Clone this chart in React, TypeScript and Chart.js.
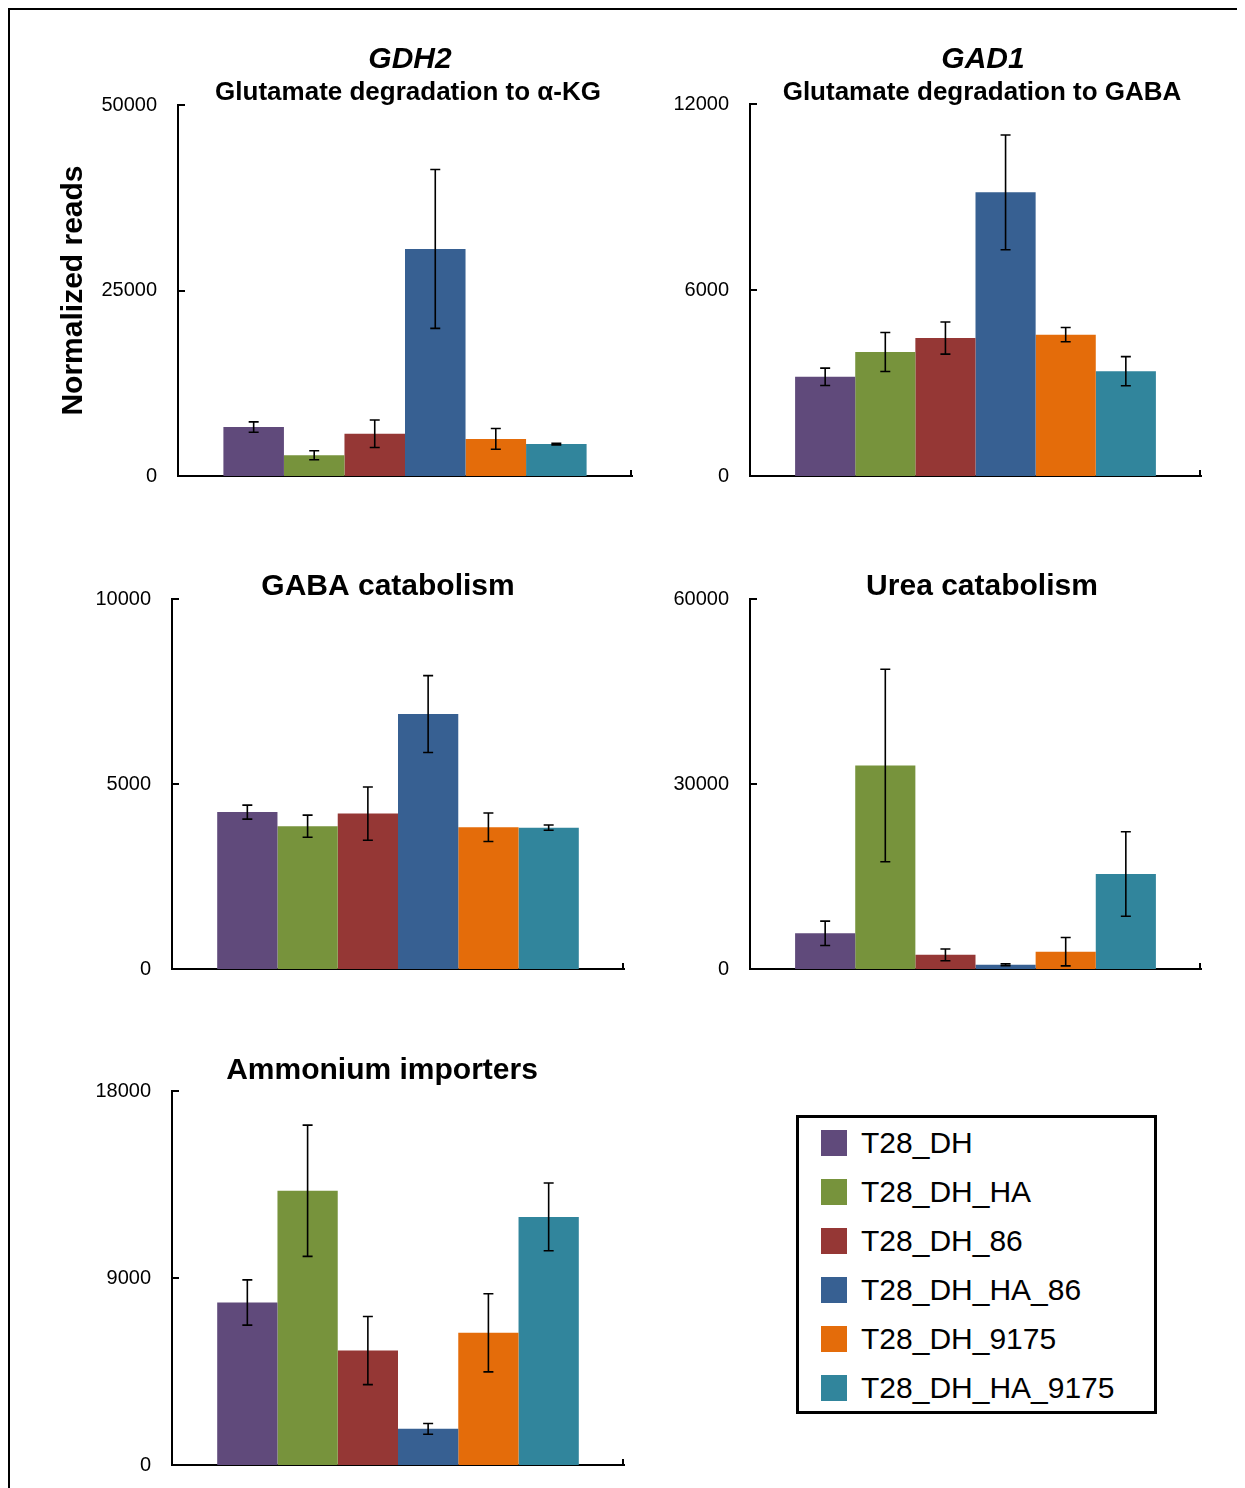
import React, { useEffect, useRef } from 'react';
import { Chart, registerables } from 'chart.js';

Chart.register(...registerables);

// ---------- data ----------
const seriesNames = ['T28_DH', 'T28_DH_HA', 'T28_DH_86', 'T28_DH_HA_86', 'T28_DH_9175', 'T28_DH_HA_9175'];
const seriesColors = ['#604A7B', '#77933C', '#953735', '#376092', '#E46C0A', '#31859C'];
const categories = [''];

const gdh2Values = [6600, 2800, 5700, 30600, 5000, 4300];
const gdh2Errors = [700, 600, 1850, 10700, 1400, 100];
const gdh2Max = 50000;

const gad1Values = [3200, 4000, 4450, 9150, 4560, 3380];
const gad1Errors = [280, 630, 520, 1850, 230, 470];
const gad1Max = 12000;

const gabaValues = [4240, 3860, 4200, 6890, 3830, 3820];
const gabaErrors = [190, 300, 720, 1040, 385, 70];
const gabaMax = 10000;

const ureaValues = [5780, 33000, 2300, 700, 2800, 15400];
const ureaErrors = [1980, 15600, 950, 150, 2300, 6850];
const ureaMax = 60000;

const ammoniumValues = [7820, 13200, 5510, 1740, 6360, 11940];
const ammoniumErrors = [1090, 3160, 1640, 260, 1880, 1630];
const ammoniumMax = 18000;

const yAxisTitle = 'Normalized reads';

// ---------- styling ----------
const FONT = '"Liberation Sans", Arial, Helvetica, sans-serif';
const X_AXIS_GAP = 34;

type Rect = { l: number; t: number; r: number; b: number };
type TitleLine = { text: string; x: number; y: number; size: number; italic?: boolean };

type PanelProps = {
  canvasL: number;
  canvasT: number;
  canvasR: number;
  area: Rect;
  values: number[];
  errors: number[];
  max: number;
  titles: TitleLine[];
  yTitle?: string;
};

function Panel({ canvasL, canvasT, canvasR, area, values, errors, max, titles, yTitle }: PanelProps) {
  const ref = useRef<HTMLCanvasElement | null>(null);
  const canvas = { l: canvasL, t: canvasT, r: canvasR, b: area.b + X_AXIS_GAP };
  const w = canvas.r - canvas.l;
  const h = canvas.b - canvas.t;

  useEffect(() => {
    if (!ref.current) return;
    const decor = {
      id: 'panelDecor',
      afterDatasetsDraw(chart: any) {
        const ctx = chart.ctx;
        const ys = chart.scales.y;
        ctx.save();
        ctx.strokeStyle = '#000';
        ctx.lineWidth = 1.6;
        chart.data.datasets.forEach((ds: any, i: number) => {
          const el = chart.getDatasetMeta(i).data[0];
          if (!el) return;
          const v = ds.data[0];
          const e = errors[i];
          const yt = ys.getPixelForValue(v + e);
          const yb = ys.getPixelForValue(Math.max(0, v - e));
          const x = el.x;
          ctx.beginPath();
          ctx.moveTo(x, yt);
          ctx.lineTo(x, yb);
          ctx.moveTo(x - 5, yt);
          ctx.lineTo(x + 5, yt);
          ctx.moveTo(x - 5, yb);
          ctx.lineTo(x + 5, yb);
          ctx.stroke();
        });
        ctx.restore();
      },
      afterDraw(chart: any) {
        const ctx = chart.ctx;
        const { left, right, bottom } = chart.chartArea;
        const ys = chart.scales.y;
        ctx.save();
        ctx.strokeStyle = '#000';
        ctx.lineWidth = 2;
        ys.ticks.forEach((t: any) => {
          const py = Math.round(ys.getPixelForValue(t.value));
          ctx.beginPath();
          ctx.moveTo(left, py);
          ctx.lineTo(left + 7, py);
          ctx.stroke();
        });
        ctx.beginPath();
        ctx.moveTo(right - 1, bottom);
        ctx.lineTo(right - 1, bottom - 6);
        ctx.stroke();
        ctx.fillStyle = '#000';
        ctx.textAlign = 'center';
        ctx.textBaseline = 'middle';
        titles.forEach((tl) => {
          ctx.font = `${tl.italic ? 'italic ' : ''}bold ${tl.size}px ${FONT}`;
          ctx.fillText(tl.text, tl.x - canvas.l, tl.y - canvas.t);
        });
        ctx.restore();
      },
    };

    const chart = new Chart(ref.current, {
      type: 'bar',
      data: {
        labels: categories,
        datasets: seriesNames.map((name, i) => ({
          label: name,
          data: [values[i]],
          backgroundColor: seriesColors[i],
          borderWidth: 0,
          categoryPercentage: 0.8,
          barPercentage: 1.0,
        })),
      },
      options: {
        animation: false,
        responsive: false,
        maintainAspectRatio: false,
        events: [],
        layout: {
          padding: { top: area.t - canvas.t, right: canvas.r - area.r, bottom: 0, left: 0 },
        },
        scales: {
          x: {
            type: 'category',
            offset: true,
            ticks: { display: false },
            grid: { display: false, drawTicks: false },
            border: { display: true, color: '#000', width: 2 },
            afterFit: (s: any) => {
              s.height = 25;
            },
          },
          y: {
            min: 0,
            max,
            ticks: {
              stepSize: max / 2,
              color: '#000',
              padding: 21,
              font: { family: FONT, size: 20 },
              callback: (v: any) => String(v),
            },
            grid: { display: false, drawTicks: false },
            border: { display: true, color: '#000', width: 2 },
            title: yTitle
              ? {
                  display: true,
                  text: yTitle,
                  color: '#000',
                  font: { family: FONT, size: 30, weight: 'bold' },
                  padding: { top: 0, bottom: 0 },
                }
              : { display: false },
            afterFit: (s: any) => {
              s.width = area.l - canvas.l;
            },
          },
        },
        plugins: {
          legend: { display: false },
          tooltip: { enabled: false },
          title: { display: false },
        },
      } as any,
      plugins: [decor],
    });
    return () => chart.destroy();
  }, []);

  return (
    <canvas
      ref={ref}
      width={w}
      height={h}
      style={{ position: 'absolute', left: canvas.l, top: canvas.t, width: w, height: h }}
    />
  );
}

function Legend() {
  const rowY = [1143, 1192, 1241, 1290, 1339, 1388];
  return (
    <div>
      <div
        style={{
          position: 'absolute',
          left: 796,
          top: 1115,
          width: 361,
          height: 299,
          border: '3px solid #000',
          boxSizing: 'border-box',
          background: '#fff',
        }}
      />
      {seriesNames.map((name, i) => (
        <div
          key={name}
          style={{
            position: 'absolute',
            left: 821,
            top: rowY[i] - 20,
            height: 40,
            display: 'flex',
            alignItems: 'center',
            whiteSpace: 'nowrap',
          }}
        >
          <div style={{ width: 26, height: 26, background: seriesColors[i] }} />
          <span
            style={{
              marginLeft: 14,
              fontFamily: FONT,
              fontSize: 30,
              color: '#000',
              lineHeight: '40px',
            }}
          >
            {name}
          </span>
        </div>
      ))}
    </div>
  );
}

export default function App() {
  return (
    <div
      style={{
        position: 'absolute',
        left: 0,
        top: 0,
        width: 1245,
        height: 1488,
        background: '#fff',
        overflow: 'hidden',
      }}
    >
      <div style={{ position: 'absolute', left: 8, top: 8, width: 1229, height: 2, background: '#000' }} />
      <div style={{ position: 'absolute', left: 8, top: 8, width: 2, height: 1480, background: '#000' }} />

      <Panel
        canvasL={56}
        canvasT={20}
        canvasR={645}
        area={{ l: 178, t: 105, r: 632, b: 475 }}
        values={gdh2Values}
        errors={gdh2Errors}
        max={gdh2Max}
        yTitle={yAxisTitle}
        titles={[
          { text: 'GDH2', x: 410, y: 60, size: 30, italic: true },
          { text: 'Glutamate degradation to α-KG', x: 408, y: 93, size: 26 },
        ]}
      />
      <Panel
        canvasL={650}
        canvasT={20}
        canvasR={1230}
        area={{ l: 750, t: 104, r: 1201, b: 475 }}
        values={gad1Values}
        errors={gad1Errors}
        max={gad1Max}
        titles={[
          { text: 'GAD1', x: 983, y: 60, size: 30, italic: true },
          { text: 'Glutamate degradation to GABA', x: 982, y: 93, size: 26 },
        ]}
      />
      <Panel
        canvasL={60}
        canvasT={555}
        canvasR={645}
        area={{ l: 172, t: 599, r: 624, b: 968 }}
        values={gabaValues}
        errors={gabaErrors}
        max={gabaMax}
        titles={[{ text: 'GABA catabolism', x: 388, y: 587, size: 30 }]}
      />
      <Panel
        canvasL={650}
        canvasT={555}
        canvasR={1230}
        area={{ l: 750, t: 599, r: 1201, b: 968 }}
        values={ureaValues}
        errors={ureaErrors}
        max={ureaMax}
        titles={[{ text: 'Urea catabolism', x: 982, y: 587, size: 30 }]}
      />
      <Panel
        canvasL={60}
        canvasT={1040}
        canvasR={645}
        area={{ l: 172, t: 1091, r: 624, b: 1464 }}
        values={ammoniumValues}
        errors={ammoniumErrors}
        max={ammoniumMax}
        titles={[{ text: 'Ammonium importers', x: 382, y: 1071, size: 30 }]}
      />
      <Legend />
    </div>
  );
}
